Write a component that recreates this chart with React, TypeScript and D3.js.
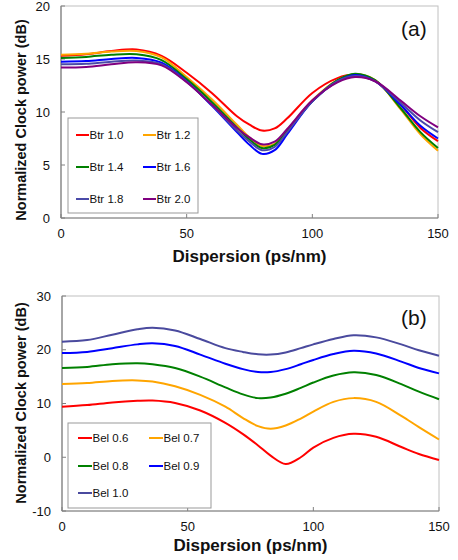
import React from "react";
import * as d3 from "d3";

// Panel (a)
const dispA = [0, 10, 20, 30, 40, 50, 60, 70, 75, 80, 85, 90, 100, 110, 117, 125, 135, 143, 150];
const btr10 = [15.3, 15.45, 15.75, 15.9, 15.3, 13.7, 11.8, 9.6, 8.8, 8.25, 8.45, 9.4, 11.8, 13.2, 13.5, 12.9, 10.7, 8.5, 7.25];
const btr12 = [15.4, 15.5, 15.7, 15.75, 15.15, 13.3, 11.2, 8.8, 7.6, 6.8, 7.0, 8.3, 11.1, 13.0, 13.55, 13.0, 10.3, 7.9, 6.35];
const btr14 = [15.1, 15.2, 15.4, 15.45, 14.9, 13.1, 10.95, 8.55, 7.4, 6.6, 6.9, 8.2, 11.0, 13.0, 13.6, 13.0, 10.4, 8.1, 6.6];
const btr16 = [14.75, 14.8, 15.0, 15.1, 14.65, 12.9, 10.6, 8.1, 6.9, 6.05, 6.4, 7.9, 11.0, 12.9, 13.5, 12.9, 10.7, 8.7, 7.5];
const btr18 = [14.5, 14.55, 14.75, 14.85, 14.5, 12.85, 10.65, 8.25, 7.2, 6.4, 6.7, 8.1, 11.0, 12.9, 13.4, 12.9, 10.9, 9.2, 8.1];
const btr20 = [14.2, 14.25, 14.5, 14.7, 14.4, 12.8, 10.7, 8.5, 7.6, 6.95, 7.2, 8.4, 11.1, 12.8, 13.3, 12.9, 11.1, 9.6, 8.55];
const namesA = ["Btr 1.0", "Btr 1.2", "Btr 1.4", "Btr 1.6", "Btr 1.8", "Btr 2.0"];
const colorsA = ["#ff0000", "#ffa500", "#008000", "#0000ff", "#4a4aa8", "#800080"];
const seriesA = [btr10, btr12, btr14, btr16, btr18, btr20];
const yTicksA = [0, 5, 10, 15, 20];

// Panel (b)
const dispB = [0, 10, 20, 30, 36, 45, 55, 65, 72, 78, 83, 89, 95, 100, 108, 116, 125, 135, 142, 150];
const bel06 = [9.4, 9.7, 10.2, 10.5, 10.55, 10.1, 8.7, 6.4, 4.3, 2.2, 0.3, -1.25, 0.0, 1.8, 3.6, 4.35, 3.8, 1.9, 0.6, -0.5];
const bel07 = [13.65, 13.8, 14.2, 14.3, 14.1, 13.2, 11.6, 9.4, 7.3, 5.8, 5.3, 5.9, 7.2, 8.5, 10.3, 11.0, 10.3, 7.7, 5.6, 3.3];
const bel08 = [16.6, 16.8, 17.3, 17.5, 17.3, 16.6, 15.0, 13.0, 11.7, 11.0, 11.1, 11.8, 12.9, 13.9, 15.2, 15.8, 15.3, 13.6, 12.2, 10.8];
const bel09 = [19.4, 19.6, 20.3, 21.0, 21.2, 20.7, 19.1, 17.4, 16.4, 15.85, 15.85, 16.4, 17.3, 18.1, 19.2, 19.8, 19.3, 17.8, 16.6, 15.6];
const bel10 = [21.5, 21.8, 22.8, 23.8, 24.1, 23.6, 22.0, 20.3, 19.6, 19.15, 19.1, 19.5, 20.3, 21.0, 22.0, 22.7, 22.3, 21.0, 19.9, 18.9];
const namesB = ["Bel 0.6", "Bel 0.7", "Bel 0.8", "Bel 0.9", "Bel 1.0"];
const colorsB = ["#ff0000", "#ffa500", "#008000", "#0000ff", "#4a4a9e"];
const seriesB = [bel06, bel07, bel08, bel09, bel10];
const yTicksB = [-10, 0, 10, 20, 30];

const xTicks = [0, 50, 100, 150];
const FONT = "Liberation Sans, Arial, sans-serif";

type PanelProps = {
  left: number; right: number; top: number; bottom: number;
  xs: number[]; series: number[][]; names: string[]; colors: string[];
  yDomain: [number, number]; yTicks: number[]; label: string;
  labelX: number; labelY: number;
  xLabelY: number; xTitleY: number; yTitleCy: number;
  legend: { x0: number; y0: number; x1: number; y1: number; rows: number[]; cols: number[]; lineLen: number };
};

function Panel(p: PanelProps) {
  const x = d3.scaleLinear().domain([0, 150]).range([p.left, p.right]);
  const y = d3.scaleLinear().domain(p.yDomain).range([p.bottom, p.top]);
  const line = d3.line<[number, number]>()
    .x((d) => x(d[0]))
    .y((d) => y(d[1]))
    .curve(d3.curveCatmullRom.alpha(0.5));
  const L = p.legend;
  return (
    <g>
      <rect x={p.left} y={p.top} width={p.right - p.left} height={p.bottom - p.top} fill="none" stroke="#c0c0c0" strokeWidth={1} />
      <line x1={p.left} x2={p.left} y1={p.top} y2={p.bottom} stroke="#808080" strokeWidth={1.2} />
      <line x1={p.left} x2={p.right} y1={p.bottom} y2={p.bottom} stroke="#808080" strokeWidth={1.2} />
      {p.yTicks.map((t) => (
        <g key={"y" + t}>
          <line x1={p.left} x2={p.left + 4} y1={y(t)} y2={y(t)} stroke="#808080" />
          <text x={p.left - 11} y={y(t)} dy="0.36em" textAnchor="end" fontSize={13} fontFamily={FONT} fill="#111">{t}</text>
        </g>
      ))}
      {xTicks.map((t) => (
        <g key={"x" + t}>
          <line x1={x(t)} x2={x(t)} y1={p.bottom} y2={p.bottom - 4} stroke="#808080" />
          <text x={x(t)} y={p.xLabelY} textAnchor="middle" fontSize={13} fontFamily={FONT} fill="#111">{t}</text>
        </g>
      ))}
      {p.series.map((s, i) => (
        <path key={p.names[i]} d={line(p.xs.map((d, j) => [d, s[j]] as [number, number])) || ""} fill="none" stroke={p.colors[i]} strokeWidth={2} />
      ))}
      <text x={p.labelX} y={p.labelY} fontSize={21} fontFamily={FONT} fill="#111">{p.label}</text>
      <text x={(p.left + p.right) / 2} y={p.xTitleY} textAnchor="middle" fontSize={17} fontWeight="bold" fontFamily={FONT} fill="#111">Dispersion (ps/nm)</text>
      <text transform={`translate(26,${p.yTitleCy}) rotate(-90)`} textAnchor="middle" fontSize={14.5} fontWeight="bold" fontFamily={FONT} fill="#111">Normalized Clock power (dB)</text>
      <rect x={L.x0} y={L.y0} width={L.x1 - L.x0} height={L.y1 - L.y0} fill="#fff" stroke="#999" strokeWidth={1} />
      {p.names.map((n, i) => {
        const cx = L.cols[i % 2];
        const cy = L.rows[Math.floor(i / 2)];
        return (
          <g key={"lg" + n}>
            <line x1={cx} x2={cx + L.lineLen} y1={cy} y2={cy} stroke={p.colors[i]} strokeWidth={2} />
            <text x={cx + L.lineLen + 0.5} y={cy} dy="0.36em" fontSize={11.5} fontFamily={FONT} fill="#111">{n}</text>
          </g>
        );
      })}
    </g>
  );
}

export default function App() {
  return (
    <svg width={458} height={560} style={{ position: "absolute", left: 0, top: 0, background: "#fff" }}>
      <Panel left={61} right={438} top={6} bottom={218} xs={dispA} series={seriesA} names={namesA} colors={colorsA}
        yDomain={[0, 20]} yTicks={yTicksA} label="(a)" labelX={401} labelY={36}
        xLabelY={238} xTitleY={262} yTitleCy={120}
        legend={{ x0: 68, y0: 118, x1: 198, y1: 213, rows: [135, 167, 199], cols: [76, 143], lineLen: 13 }} />
      <Panel left={62} right={439} top={296} bottom={511} xs={dispB} series={seriesB} names={namesB} colors={colorsB}
        yDomain={[-10, 30]} yTicks={yTicksB} label="(b)" labelX={401} labelY={325}
        xLabelY={531} xTitleY={551} yTitleCy={403}
        legend={{ x0: 68, y0: 423, x1: 211, y1: 508, rows: [438, 466, 493], cols: [78, 149], lineLen: 14 }} />
    </svg>
  );
}
